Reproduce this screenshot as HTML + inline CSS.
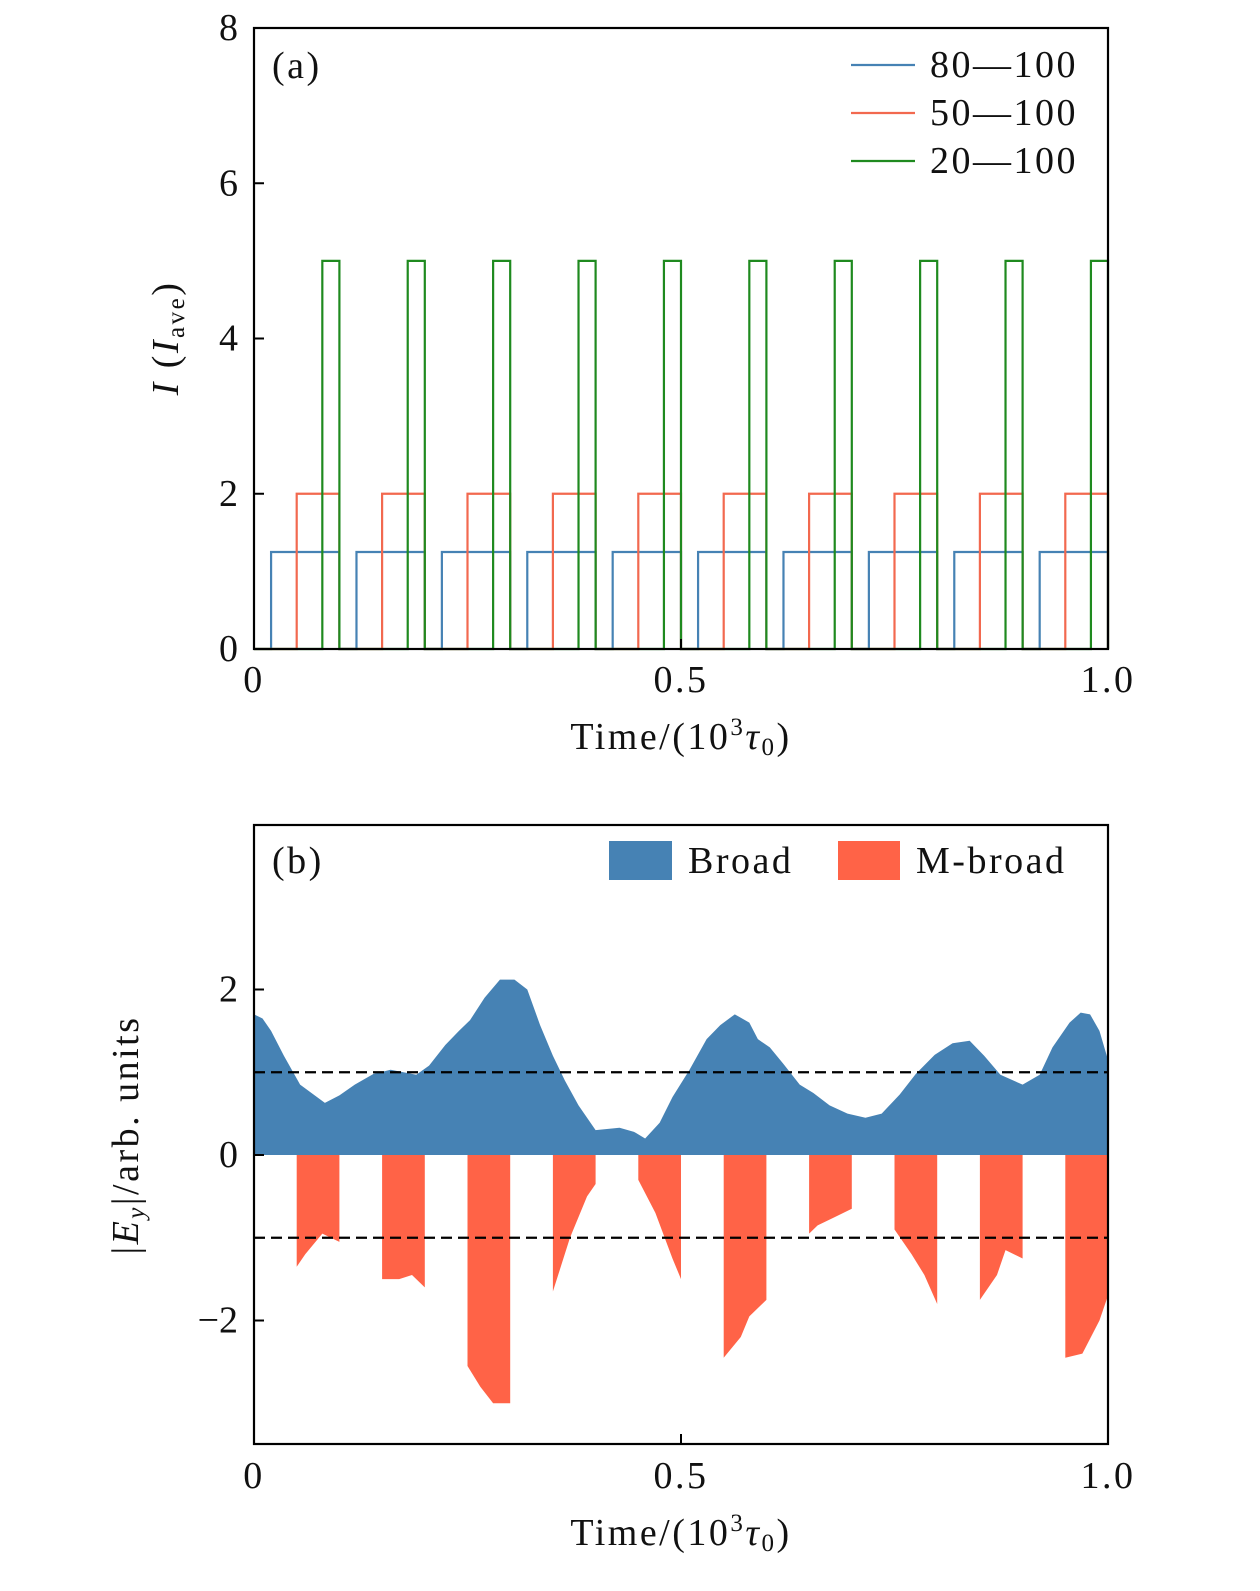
<!DOCTYPE html>
<html><head><meta charset="utf-8"><style>
html,body{margin:0;padding:0;background:#fff;overflow:hidden;width:1260px;height:1591px}
svg{display:block}
svg text{font-family:"Liberation Serif",serif;font-size:38px;fill:#111}
svg text.w{letter-spacing:2.5px}
</style></head><body>
<svg id="c" width="1260" height="1591" viewBox="0 0 1260 1591" xmlns="http://www.w3.org/2000/svg"></svg>
<script>
const periods=[0,1,2,3,4,5,6,7,8,9];
const pulseStarts=[0.02,0.05,0.08];
const pulseHeights=[1.25,2,5];
const pulseColors=['#4682b4','#f2694f','#1f8a1f'];
const seriesNames=['80—100','50—100','20—100'];
const broadT=[0,0.01,0.02,0.035,0.054,0.083,0.1,0.118,0.14,0.16,0.19,0.205,0.224,0.24,0.253,0.27,0.288,0.305,0.32,0.335,0.35,0.364,0.38,0.4,0.428,0.445,0.458,0.475,0.49,0.51,0.53,0.546,0.563,0.58,0.59,0.604,0.62,0.639,0.655,0.674,0.695,0.716,0.735,0.756,0.775,0.797,0.818,0.838,0.855,0.874,0.9,0.92,0.935,0.955,0.968,0.979,0.99,1.0];
const broadV=[1.7,1.65,1.5,1.2,0.85,0.63,0.72,0.85,0.98,1.03,0.97,1.08,1.33,1.5,1.63,1.9,2.12,2.12,2.0,1.57,1.2,0.9,0.6,0.3,0.33,0.28,0.2,0.39,0.7,1.03,1.4,1.57,1.7,1.6,1.4,1.3,1.1,0.85,0.75,0.6,0.5,0.45,0.5,0.73,0.98,1.21,1.35,1.38,1.2,0.97,0.85,0.97,1.3,1.6,1.72,1.7,1.5,1.15];
const mT=[[0.05,0.06,0.08,0.1],[0.15,0.17,0.185,0.2],[0.25,0.265,0.28,0.3],[0.35,0.37,0.39,0.4],[0.45,0.47,0.49,0.5],[0.55,0.57,0.58,0.6],[0.65,0.66,0.68,0.7],[0.75,0.77,0.785,0.8],[0.85,0.87,0.88,0.9],[0.95,0.97,0.99,1.0]];
const mV=[[-1.35,-1.2,-0.95,-1.05],[-1.5,-1.5,-1.45,-1.6],[-2.55,-2.8,-3.0,-3.0],[-1.65,-1.0,-0.5,-0.35],[-0.3,-0.7,-1.25,-1.5],[-2.45,-2.2,-1.95,-1.75],[-0.95,-0.85,-0.75,-0.65],[-0.9,-1.2,-1.45,-1.8],[-1.75,-1.45,-1.15,-1.25],[-2.45,-2.4,-2.0,-1.7]];
const xTicks=[0,0.5,1.0],xLabels=['0','0.5','1.0'];
const aTicks=[0,2,4,6,8],bTicks=[-2,0,2],bLabels=['−2','0','2'];

const svg=document.getElementById('c');const NS='http://www.w3.org/2000/svg';
function el(t,a,p){const e=document.createElementNS(NS,t);for(const k in a)e.setAttribute(k,a[k]);(p||svg).appendChild(e);return e;}
const X=t=>254+t*854;
const Ya=v=>649-v*77.625;
const Yb=v=>1155-v*82.75;

const ga=el('g',{});
pulseStarts.forEach((s,i)=>{let d='M'+X(0)+','+Ya(0);
 periods.forEach(p=>{const t0=p*0.1;d+=' L'+X(t0+s)+','+Ya(0)+' L'+X(t0+s)+','+Ya(pulseHeights[i])+' L'+X(t0+0.1)+','+Ya(pulseHeights[i])+' L'+X(t0+0.1)+','+Ya(0);});
 const pa=el('path',{d:d,fill:'none',stroke:pulseColors[i],'stroke-width':2.2},ga);
 
 
});
const fa=el('rect',{x:254,y:28,width:854,height:621,fill:'none',stroke:'#000','stroke-width':2.2},ga);

aTicks.forEach(v=>{el('line',{x1:254,x2:264,y1:Ya(v),y2:Ya(v),stroke:'#000','stroke-width':2},ga);
 const t=el('text',{x:238,y:Ya(v)+12,'text-anchor':'end'},ga);t.textContent=v;
 });
xTicks.forEach((v,i)=>{el('line',{x1:X(v),x2:X(v),y1:649,y2:639,stroke:'#000','stroke-width':2},ga);
 const t=el('text',{x:X(v),y:692,'text-anchor':'middle',class:'w'},ga);t.textContent=xLabels[i];
 });
seriesNames.forEach((n,i)=>{const y=65+i*48;
 el('line',{x1:851,x2:915,y1:y,y2:y,stroke:pulseColors[i],'stroke-width':2.2},ga);
 const t=el('text',{x:930,y:y+12,class:'w'},ga);t.textContent=n;
 });
let t=el('text',{x:272,y:78,class:'w'},ga);t.textContent='(a)';
t=el('text',{x:681,y:749,'text-anchor':'middle',class:'w'},ga);t.innerHTML='Time/(10<tspan font-size="25" dy="-14">3</tspan><tspan dy="14" font-style="italic">τ</tspan><tspan font-size="25" dy="6">0</tspan><tspan dy="-6">)</tspan>';

t=el('text',{x:0,y:0,'text-anchor':'middle',transform:'translate(178,338) rotate(-90)',class:'w'},ga);t.innerHTML='<tspan font-style="italic">I</tspan> (<tspan font-style="italic">I</tspan><tspan font-size="25" dy="6">ave</tspan><tspan dy="-6">)</tspan>';


const gb=el('g',{});
let d='M'+X(broadT[0])+','+Yb(0);broadT.forEach((tt,i)=>{d+=' L'+X(tt)+','+Yb(broadV[i]);});d+=' L'+X(broadT[broadT.length-1])+','+Yb(0)+'Z';
const ba=el('path',{d:d,fill:'#4682b4'},gb);
mT.forEach((ts,j)=>{let d='M'+X(ts[0])+','+Yb(0);ts.forEach((tt,i)=>{d+=' L'+X(tt)+','+Yb(mV[j][i]);});d+=' L'+X(ts[ts.length-1])+','+Yb(0)+'Z';
 const p=el('path',{d:d,fill:'#ff6347'},gb);});
[1,-1].forEach(v=>{const l=el('line',{x1:254,x2:1108,y1:Yb(v),y2:Yb(v),stroke:'#000','stroke-width':2.2,'stroke-dasharray':'11,6'},gb);
 });
const fb=el('rect',{x:254,y:825,width:854,height:619,fill:'none',stroke:'#000','stroke-width':2.2},gb);

bTicks.forEach((v,i)=>{el('line',{x1:254,x2:264,y1:Yb(v),y2:Yb(v),stroke:'#000','stroke-width':2},gb);
 const t=el('text',{x:238,y:Yb(v)+12,'text-anchor':'end'},gb);t.textContent=bLabels[i];
 });
xTicks.forEach((v,i)=>{el('line',{x1:X(v),x2:X(v),y1:1444,y2:1434,stroke:'#000','stroke-width':2},gb);
 const t=el('text',{x:X(v),y:1488,'text-anchor':'middle',class:'w'},gb);t.textContent=xLabels[i];
 });
el('rect',{x:609,y:841,width:63,height:39,fill:'#4682b4'},gb);
t=el('text',{x:688,y:873,class:'w'},gb);t.textContent='Broad';
el('rect',{x:838,y:841,width:62,height:39,fill:'#ff6347'},gb);
t=el('text',{x:916,y:873,class:'w'},gb);t.textContent='M-broad';
t=el('text',{x:272,y:873,class:'w'},gb);t.textContent='(b)';
t=el('text',{x:681,y:1545,'text-anchor':'middle',class:'w'},gb);t.innerHTML='Time/(10<tspan font-size="25" dy="-14">3</tspan><tspan dy="14" font-style="italic">τ</tspan><tspan font-size="25" dy="6">0</tspan><tspan dy="-6">)</tspan>';

t=el('text',{x:0,y:0,'text-anchor':'middle',transform:'translate(138,1135) rotate(-90)',class:'w'},gb);t.innerHTML='|<tspan font-style="italic">E</tspan><tspan font-size="25" dy="6" font-style="italic">y</tspan><tspan dy="-6">|/arb. units</tspan>';

</script>
</body></html>
